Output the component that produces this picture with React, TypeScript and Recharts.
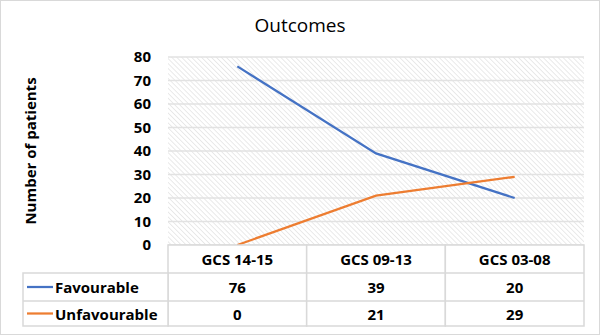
import React from 'react';
import { LineChart, Line, XAxis, YAxis, CartesianGrid } from 'recharts';

const categories = ['GCS 14-15', 'GCS 09-13', 'GCS 03-08'];
const favourable = [76, 39, 20];
const unfavourable = [0, 21, 29];
const yTicks = [0, 10, 20, 30, 40, 50, 60, 70, 80];
const seriesNames = ['Favourable', 'Unfavourable'];

const data = categories.map((c, i) => ({ name: c, fav: favourable[i], unfav: unfavourable[i] }));

const FONT = '"Open Sans", Lato, sans-serif';
const BORDER = '#d9d9d9';
const BLUE = '#4472C4';
const ORANGE = '#ED7D31';
const TEXT = '#000';
const FS = 15;

const TableTick = (props: any) => {
  const { x, y, payload, index } = props;
  const w = payload && payload.offset ? payload.offset * 2 : 416 / 3;
  const left = x - w / 2;
  const rows = [y, y + 28, y + 56, y + 81];
  const vals = [favourable[index], unfavourable[index]];
  const legendLeft = 23;
  return (
    <g>
      <rect x={left} y={rows[0]} width={w} height={rows[3] - rows[0]} fill="#fff" stroke={BORDER} strokeWidth={1.5} />
      <line x1={left} x2={left + w} y1={rows[1]} y2={rows[1]} stroke={BORDER} strokeWidth={1.5} />
      <line x1={left} x2={left + w} y1={rows[2]} y2={rows[2]} stroke={BORDER} strokeWidth={1.5} />
      <text x={x} y={(rows[0] + rows[1]) / 2} textAnchor="middle" dominantBaseline="central" fontFamily={FONT} fontWeight={700} fontSize={FS} fill={TEXT}>
        {payload.value}
      </text>
      {vals.map((v, i) => (
        <text key={i} x={x} y={(rows[i + 1] + rows[i + 2]) / 2} textAnchor="middle" dominantBaseline="central" fontFamily={FONT} fontWeight={700} fontSize={FS} fill={TEXT}>
          {v}
        </text>
      ))}
      {index === 0 && (
        <g>
          <rect x={legendLeft} y={rows[1]} width={left - legendLeft} height={rows[3] - rows[1]} fill="#fff" stroke={BORDER} strokeWidth={1.5} />
          <line x1={legendLeft} x2={left} y1={rows[2]} y2={rows[2]} stroke={BORDER} strokeWidth={1.5} />
          {seriesNames.map((n, i) => {
            const cy = (rows[i + 1] + rows[i + 2]) / 2;
            return (
              <g key={n}>
                <line x1={27} x2={53} y1={cy} y2={cy} stroke={i === 0 ? BLUE : ORANGE} strokeWidth={2.25} />
                <text x={55} y={cy} dominantBaseline="central" fontFamily={FONT} fontWeight={700} fontSize={FS} fill={TEXT}>
                  {n}
                </text>
              </g>
            );
          })}
        </g>
      )}
    </g>
  );
};

const YLabel = (props: any) => {
  const vb = props.viewBox || { x: 0, y: 57, width: 168, height: 188 };
  const cx = 30;
  const cy = vb.y + vb.height / 2;
  return (
    <text x={cx} y={cy} transform={`rotate(-90 ${cx} ${cy})`} textAnchor="middle" dominantBaseline="central" fontFamily={FONT} fontWeight={700} fontSize={FS} fill={TEXT}>
      Number of patients
    </text>
  );
};

export default function App() {
  return (
    <div style={{ position: 'absolute', left: 0, top: 0, width: 600, height: 335, background: '#fff' }}>
      <div style={{ position: 'absolute', left: 0, top: 11, width: 600, textAlign: 'center', fontFamily: FONT, fontSize: 19, lineHeight: '28px', color: '#000' }}>
        Outcomes
      </div>
      <div style={{ position: 'absolute', left: 0, top: 0 }}>
        <LineChart width={600} height={335} data={data} margin={{ top: 57, right: 16, bottom: 9, left: 0 }}>
          <defs>
            <pattern id="hatch" width="3.5" height="3.5" patternUnits="userSpaceOnUse" patternTransform="rotate(-45)">
              <rect width="3.5" height="3.5" fill="#ffffff" />
              <line x1="0" y1="0" x2="0" y2="3.5" stroke="#dcdcdc" strokeWidth="1.2" />
            </pattern>
          </defs>
          <CartesianGrid vertical={false} fill="url(#hatch)" stroke="#e2e2e2" strokeWidth={1.5} />
          <XAxis
            dataKey="name"
            scale="band"
            height={81}
            axisLine={false}
            tickLine={false}
            tickSize={0}
            tickMargin={0}
            interval={0}
            tick={<TableTick />}
          />
          <YAxis
            width={168}
            domain={[0, 80]}
            ticks={yTicks}
            axisLine={false}
            tickLine={false}
            tickSize={0}
            tickMargin={17}
            tick={{ fontFamily: FONT, fontWeight: 700, fontSize: FS, fill: TEXT }}
            label={<YLabel />}
          />
          <Line dataKey="fav" stroke={BLUE} strokeWidth={2.25} dot={false} isAnimationActive={false} />
          <Line dataKey="unfav" stroke={ORANGE} strokeWidth={2.25} dot={false} isAnimationActive={false} />
        </LineChart>
      </div>
      <div style={{ position: 'absolute', left: 0, top: 0, width: 600, height: 335, boxSizing: 'border-box', border: '1.5px solid #d9d9d9', pointerEvents: 'none' }} />
    </div>
  );
}
